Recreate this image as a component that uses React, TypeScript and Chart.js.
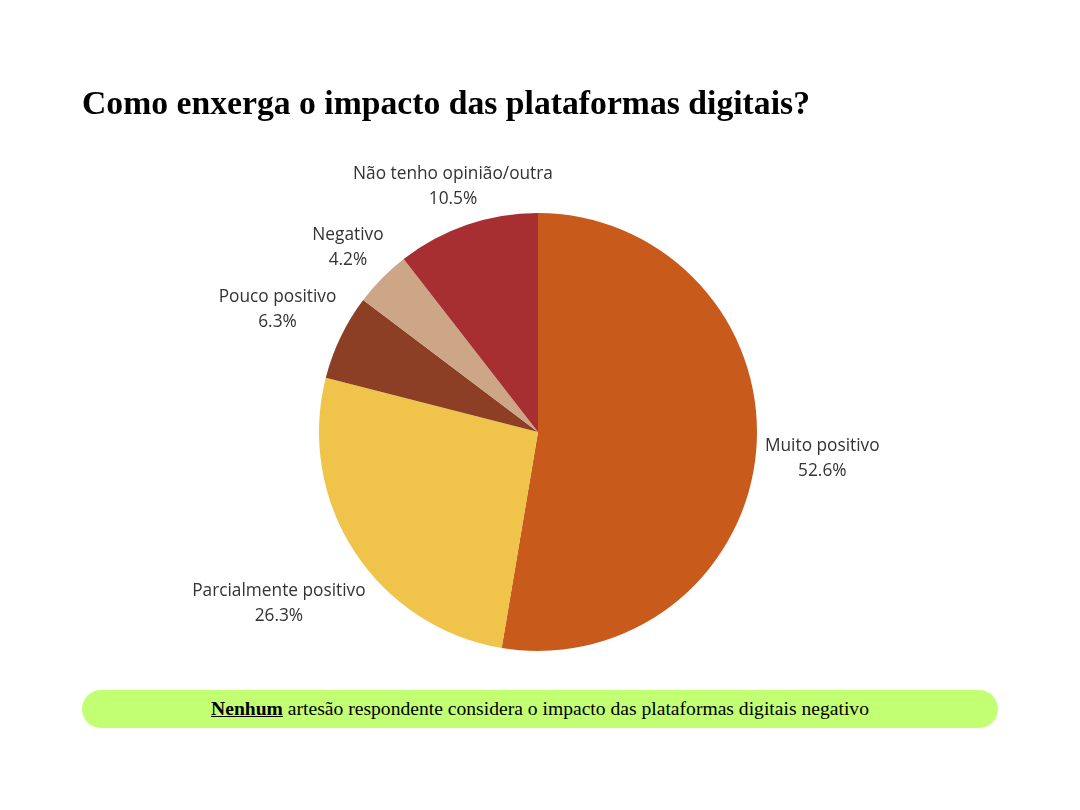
import React, { useEffect, useRef } from "react";
import { Chart, registerables } from "chart.js";

Chart.register(...registerables);

const categories = [
  "Muito positivo",
  "Parcialmente positivo",
  "Pouco positivo",
  "Negativo",
  "Não tenho opinião/outra",
];
const values = [52.6, 26.3, 6.3, 4.2, 10.5];
const colors = ["#C85B1B", "#F0C44B", "#8C3F25", "#CDA688", "#A72E31"];
const titleText = "Como enxerga o impacto das plataformas digitais?";
const footerBold = "Nenhum";
const footerRest = " artesão respondente considera o impacto das plataformas digitais negativo";

const labelPlugin = {
  id: "outerLabels",
  afterDatasetsDraw(chart: any) {
    const ctx = chart.ctx;
    const meta = chart.getDatasetMeta(0);
    ctx.save();
    ctx.font = "17.3px 'Open Sans'";
    ctx.fillStyle = "#333333";
    ctx.textAlign = "center";
    ctx.textBaseline = "middle";
    const lineH = 25;
    const hh = 21;
    const gap = 8;
    const yShift = 3;
    meta.data.forEach((arc: any, i: number) => {
      const p = arc.getProps(["x", "y", "startAngle", "endAngle", "outerRadius"], true);
      const mid = (p.startAngle + p.endAngle) / 2;
      const l1 = categories[i];
      const l2 = values[i].toFixed(1) + "%";
      const w = Math.max(ctx.measureText(l1).width, ctx.measureText(l2).width);
      const hw = w / 2;
      const dx = Math.cos(mid);
      const dy = Math.sin(mid);
      const target = p.outerRadius + gap;
      const boxDist = (t: number) => {
        const ex = Math.max(Math.abs(dx * t) - hw, 0);
        const ey = Math.max(Math.abs(dy * t) - hh, 0);
        return Math.hypot(ex, ey);
      };
      let lo = 0;
      let hi = 2000;
      for (let k = 0; k < 60; k++) {
        const m = (lo + hi) / 2;
        if (boxDist(m) < target) lo = m;
        else hi = m;
      }
      const cx = p.x + dx * lo;
      const cy = p.y + dy * lo + yShift;
      ctx.fillText(l1, cx, cy - lineH / 2);
      ctx.fillText(l2, cx, cy + lineH / 2);
    });
    ctx.restore();
  },
};

export default function App() {
  const ref = useRef<HTMLCanvasElement>(null);
  useEffect(() => {
    document.body.style.margin = "0";
    const chart = new Chart(ref.current as HTMLCanvasElement, {
      type: "pie",
      data: {
        labels: categories,
        datasets: [
          {
            data: values,
            backgroundColor: colors,
            borderWidth: 0,
          },
        ],
      },
      options: {
        responsive: false,
        animation: false,
        layout: { padding: { left: 319, right: 323, top: 213, bottom: 159 } },
        plugins: {
          legend: { display: false },
          title: { display: false },
          tooltip: { enabled: false },
        },
      },
      plugins: [labelPlugin],
    });
    return () => chart.destroy();
  }, []);

  return (
    <div style={{ position: "fixed", left: 0, top: 0, width: 1080, height: 810, background: "#ffffff" }}>
      <canvas ref={ref} width={1080} height={810} style={{ position: "absolute", left: 0, top: 0 }} />
      <div
        style={{
          position: "absolute",
          left: 82,
          top: 81,
          fontFamily: "'Liberation Serif', serif",
          fontWeight: "bold",
          fontSize: 33.7,
          color: "#000",
          whiteSpace: "nowrap",
          lineHeight: "44px",
        }}
      >
        {titleText}
      </div>
      <div
        style={{
          position: "absolute",
          left: 82,
          top: 690,
          width: 916,
          height: 38,
          borderRadius: 19,
          background: "#C2FF73",
          display: "flex",
          alignItems: "center",
          justifyContent: "center",
          fontFamily: "'Liberation Serif', serif",
          fontSize: 19.6,
          color: "#000",
          whiteSpace: "nowrap",
        }}
      >
        <span>
          <b style={{ textDecoration: "underline" }}>{footerBold}</b>
          {footerRest}
        </span>
      </div>
    </div>
  );
}
